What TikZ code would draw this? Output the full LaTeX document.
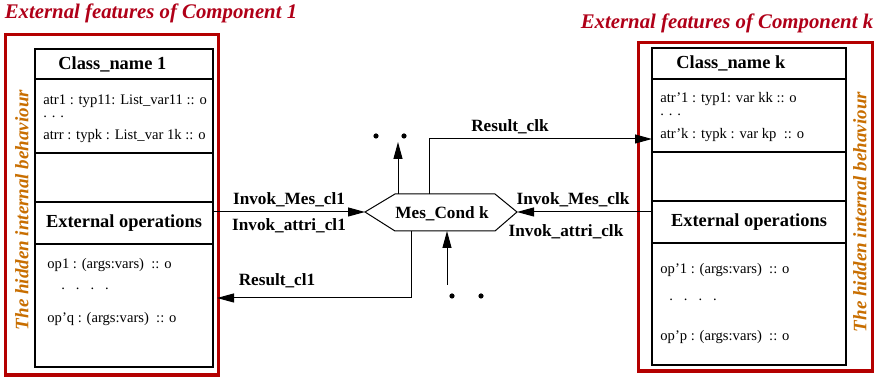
\documentclass[tikz,border=0pt]{standalone}
\usepackage{fontspec}
\setmainfont{Liberation Serif}
\usetikzlibrary{arrows.meta,positioning}
\definecolor{framered}{RGB}{180,0,0}
\definecolor{titlered}{RGB}{176,0,24}
\definecolor{hidorange}{RGB}{200,110,0}

\begin{document}
\begin{tikzpicture}[x=0.5pt,y=-0.5pt,>={Triangle[length=8.5pt,width=4.5pt]},
 rec/.style={draw,line width=0.6pt,inner sep=0pt,outer sep=0pt},
 frame/.style={draw=framered,line width=1.6pt},
 ttl/.style={text=titlered,font=\fontsize{10.4}{12}\selectfont\bfseries\itshape},
 hid/.style={text=hidorange,rotate=90,font=\fontsize{9.5}{11}\selectfont\bfseries\itshape},
 hd/.style={font=\fontsize{9.2}{11}\selectfont\bfseries},
 lbl/.style={font=\fontsize{8.6}{10}\selectfont\bfseries},
 txt/.style={anchor=west,inner sep=0pt,font=\fontsize{7.3}{9}\selectfont},
 con/.style={->,line width=0.5pt}]
\useasboundingbox (0,0) rectangle (875,378);
% component 1
\node[ttl] at (151,13) {External features of Component 1};
\draw[frame] (5.5,34.5) rectangle (218.5,375);
\node[hid] at (22,210) {The hidden internal behaviour};
\node[rec,minimum width=89pt,minimum height=15pt] (lcn) at (124,64) {};
\node[rec,minimum width=89pt,minimum height=37pt,below=0pt of lcn] (lat) {};
\node[rec,minimum width=89pt,minimum height=24.5pt,below=0pt of lat] (lbl) {};
\node[rec,minimum width=89pt,minimum height=21pt,below=0pt of lbl,hd] (lhd) {External operations};
\node[rec,minimum width=89pt,minimum height=61.5pt,below=0pt of lhd] (lop) {};
\node[hd,anchor=west,inner sep=0pt] at ([xshift=11.5pt]lcn.west) {Class\_name 1};
\node[txt] at (43,101) {atr1 : typ11: List\_var11 :: o};
\node[txt] at (43,117) {. . .};
\node[txt] at (43,136) {atrr : typk : List\_var 1k :: o};
\node[txt] at (47,265) {op1 : (args:vars)\ \ :: o};
\node[txt] at (61,289) {.\ \ \ .\ \ \ .\ \ \ .};
\node[txt] at (47,319) {op'q : (args:vars)\ \ :: o};
% component k
\node[ttl] at (727,23) {External features of Component k};
\draw[frame] (638.5,42.5) rectangle (872.5,371);
\node[hid] at (860,212) {The hidden internal behaviour};
\node[rec,minimum width=97pt,minimum height=15.5pt] (rcn) at (749,63.5) {};
\node[rec,minimum width=97pt,minimum height=36.5pt,below=0pt of rcn] (rat) {};
\node[rec,minimum width=97pt,minimum height=24.5pt,below=0pt of rat] (rbl) {};
\node[rec,minimum width=97pt,minimum height=21pt,below=0pt of rbl,hd] (rhd) {External operations};
\node[rec,minimum width=97pt,minimum height=61pt,below=0pt of rhd] (rop) {};
\node[hd,anchor=west,inner sep=0pt] at ([xshift=12pt]rcn.west) {Class\_name k};
\node[txt] at (660,99) {atr'1 : typ1: var kk :: o};
\node[txt] at (660,115) {. . .};
\node[txt] at (660,135) {atr'k : typk : var kp\ \ :: o};
\node[txt] at (660,270) {op'1 : (args:vars)\ \ :: o};
\node[txt] at (669,300) {.\ \ \ .\ \ \ .\ \ \ .};
\node[txt] at (660,337) {op'p : (args:vars)\ \ :: o};
% message condition
\coordinate (hl) at (365,212);
\coordinate (hr) at (517,212);
\draw[line width=0.5pt] (hl) -- (395,194) -- (495,194) -- (hr) -- (495,231) -- (395,231) -- cycle;
\node[lbl] (mc) at (442,214) {Mes\_Cond k};
\coordinate (up1) at (398,194);
\coordinate (up2) at (398,142);
\coordinate (rk) at (429,194);
\coordinate (r1) at (411,231);
\coordinate (rend) at (217,298);
\coordinate (dn1) at (447,285);
\coordinate (dn2) at (447,231);
\draw[con] (lhd.east |- hl) -- (hl);
\draw[con] (rhd.west |- hr) -- (hr);
\draw[con] (rk) |- ([yshift=-11.75pt]rat.west);
\draw[con] (up1) -- (up2);
\draw[con] (r1) |- (rend);
\draw[con] (dn1) -- (dn2);
\foreach \p in {(376,136),(404,136),(452,296),(481,296)}
  \fill \p circle (1.3pt);
\node[lbl] at (289,200) {Invok\_Mes\_cl1};
\node[lbl] at (289,226) {Invok\_attri\_cl1};
\node[lbl] at (573,200) {Invok\_Mes\_clk};
\node[lbl] at (566,232) {Invok\_attri\_clk};
\node[lbl] at (510,127) {Result\_clk};
\node[lbl] at (277,281) {Result\_cl1};
\end{tikzpicture}
\end{document}
